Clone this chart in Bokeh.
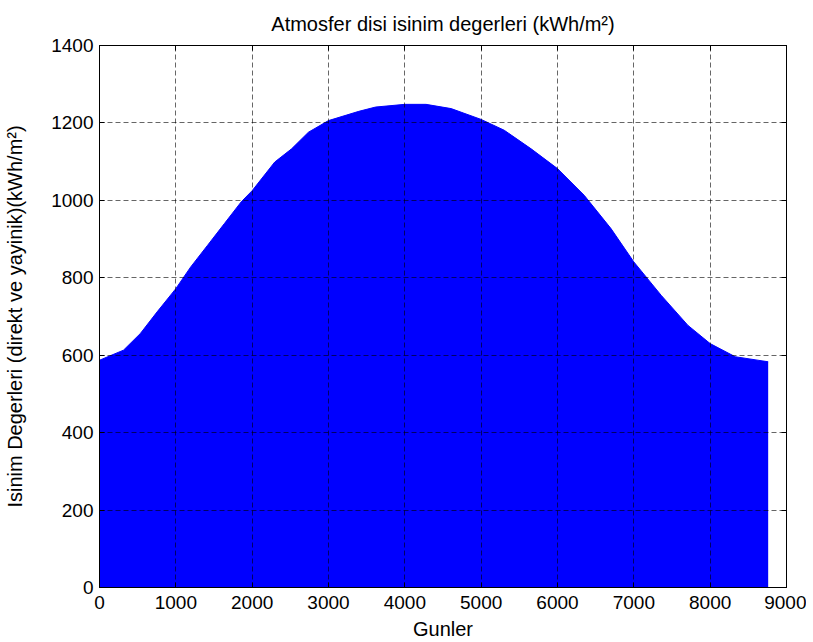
from bokeh.plotting import figure
from bokeh.models import Range1d, FixedTicker, LinearAxis
from bokeh.embed import file_html
from bokeh.resources import INLINE

# Daily peak envelope of hourly extraterrestrial radiation
hours = [0, 314, 535, 755, 1000, 1195, 1416, 1636, 1856, 2000, 2296, 2516, 2737,
         3000, 3398, 3617, 4000, 4277, 4607, 5000, 5303, 5655, 6000, 6350, 6701,
         7000, 7357, 7709, 8000, 8329, 8760]
peak = [587, 613, 656, 712, 772, 828, 884, 940, 996, 1025, 1099, 1133, 1176,
        1206, 1230, 1241, 1248, 1248, 1237, 1209, 1181, 1133, 1082, 1013, 927,
        841, 755, 677, 630, 596, 583]
base = [0] * len(hours)

x_ticks = [0, 1000, 2000, 3000, 4000, 5000, 6000, 7000, 8000, 9000]
y_ticks = [0, 200, 400, 600, 800, 1000, 1200, 1400]

FONT = "Liberation Sans"

p = figure(frame_width=687, frame_height=542, output_backend="svg",
           toolbar_location=None, min_border_left=99, min_border_right=20,
           min_border_top=44, min_border_bottom=56,
           x_range=Range1d(0, 9000), y_range=Range1d(0, 1400),
           title="Atmosfer disi isinim degerleri (kWh/m²)")
p.title.align = "center"
p.title.text_font = FONT
p.title.text_font_size = "20px"
p.title.text_font_style = "normal"
p.title.text_color = "black"
p.title.standoff = 21

p.varea(x=hours, y1=base, y2=peak, fill_color="#0000ff")
p.line(x=hours, y=peak, line_color="#0000ff", line_width=1)

p.outline_line_color = "black"
p.outline_line_width = 1
p.outline_line_alpha = 1

for ax in (p.xaxis[0], p.yaxis[0]):
    ax.major_tick_in = 5
    ax.major_tick_out = 0
    ax.minor_tick_line_color = None
    ax.axis_line_color = "black"
    ax.major_tick_line_color = "black"
    ax.major_label_text_font = FONT
    ax.major_label_text_font_size = "19px"
    ax.major_label_text_color = "black"
    ax.axis_label_text_font = FONT
    ax.axis_label_text_font_size = "20px"
    ax.axis_label_text_font_style = "normal"
    ax.axis_label_text_color = "black"

p.xaxis.ticker = FixedTicker(ticks=x_ticks)
p.yaxis.ticker = FixedTicker(ticks=y_ticks)
p.xaxis.axis_label = "Gunler"
p.yaxis.axis_label = "Isinim Degerleri (direkt ve yayinik)(kWh/m²)"
p.xaxis.major_label_standoff = 8
p.yaxis.major_label_standoff = 6
p.xaxis.axis_label_standoff = 6
p.yaxis.axis_label_standoff = 22

top = LinearAxis(ticker=FixedTicker(ticks=x_ticks), major_tick_in=5, major_tick_out=0,
                 minor_tick_line_color=None, major_label_text_font_size="0px",
                 major_label_standoff=0, axis_line_color="black")
right = LinearAxis(ticker=FixedTicker(ticks=y_ticks), major_tick_in=5, major_tick_out=0,
                   minor_tick_line_color=None, major_label_text_font_size="0px",
                   major_label_standoff=0, axis_line_color="black")
p.add_layout(top, "above")
p.add_layout(right, "right")

p.xgrid.ticker = FixedTicker(ticks=x_ticks)
p.ygrid.ticker = FixedTicker(ticks=y_ticks)
for g in (p.xgrid[0], p.ygrid[0]):
    g.grid_line_color = "black"
    g.grid_line_dash = "5 3"
    g.grid_line_alpha = 0.6
    g.grid_line_width = 1
    g.level = "overlay"

p.background_fill_color = "white"
p.border_fill_color = "white"

open("out.html", "w").write(file_html(p, INLINE))
